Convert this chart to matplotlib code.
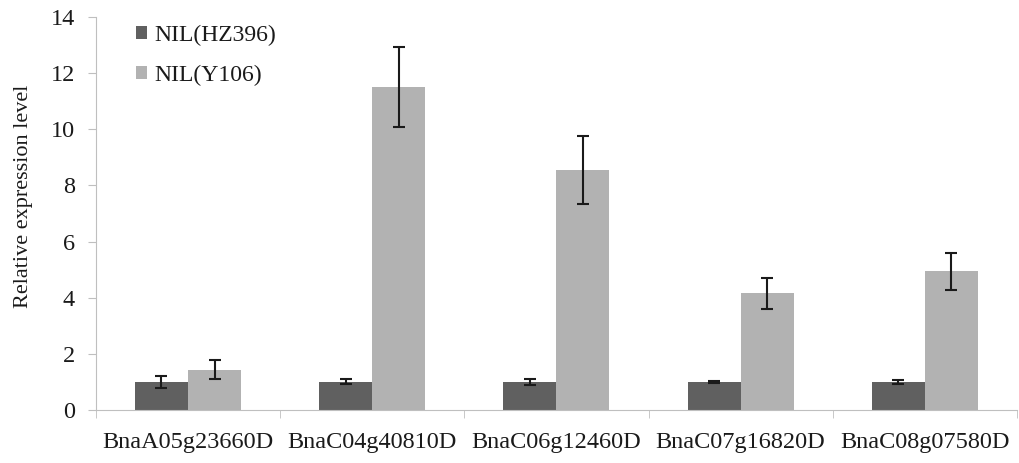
import matplotlib.pyplot as plt
import numpy as np

genes = ["BnaA05g23660D", "BnaC04g40810D", "BnaC06g12460D",
         "BnaC07g16820D", "BnaC08g07580D"]
hz396 = [1.0, 1.0, 1.0, 1.0, 1.0]
hz396_err = [0.2, 0.09, 0.1, 0.05, 0.06]
y106 = [1.43, 11.51, 8.56, 4.16, 4.94]
y106_err = [0.34, 1.42, 1.21, 0.55, 0.65]

plt.rcParams["font.family"] = ["Liberation Serif", "DejaVu Serif"]

fig = plt.figure(figsize=(10.2, 4.63), dpi=100)
ax = fig.add_axes([0.094, 0.1145, 0.903, 0.8485])

x = np.arange(len(genes))
w = 0.288
err_kw = dict(ecolor="#1a1a1a", elinewidth=1.5, capsize=4, capthick=1.5)
ax.bar(x - w / 2, hz396, w, yerr=hz396_err, color="#606060",
       label="NIL(HZ396)", error_kw=err_kw)
ax.bar(x + w / 2, y106, w, yerr=y106_err, color="#b2b2b2",
       label="NIL(Y106)", error_kw=err_kw)

ax.set_xlim(-0.5, len(genes) - 0.5)
ax.set_ylim(0, 14)
ax.set_yticks(range(0, 15, 2))
ax.set_xticks(x)
ax.set_xticklabels(genes)
ax.set_xticks(np.arange(-0.5, len(genes)), minor=True)
ax.tick_params(axis="x", which="major", length=0, pad=16, labelsize=17.5,
               labelcolor="#1a1a1a")
ax.tick_params(axis="x", which="minor", length=6, color="#bfbfbf", direction="out")
ax.tick_params(axis="y", length=6, color="#bfbfbf", labelsize=17.5, pad=9,
               labelcolor="#1a1a1a")

for s in ["top", "right"]:
    ax.spines[s].set_visible(False)
for s in ["left", "bottom"]:
    ax.spines[s].set_color("#bfbfbf")

ax.set_ylabel("Relative expression level", fontsize=16, color="#1a1a1a")
ax.yaxis.set_label_coords(-0.068, 0.543)

ax.legend(loc="upper left", bbox_to_anchor=(0.02, 1.035), frameon=False,
          fontsize=17, handlelength=0.5, handleheight=0.5,
          handletextpad=0.3, labelspacing=0.8, labelcolor="#1a1a1a")

fig.savefig("out.png", dpi=100)
